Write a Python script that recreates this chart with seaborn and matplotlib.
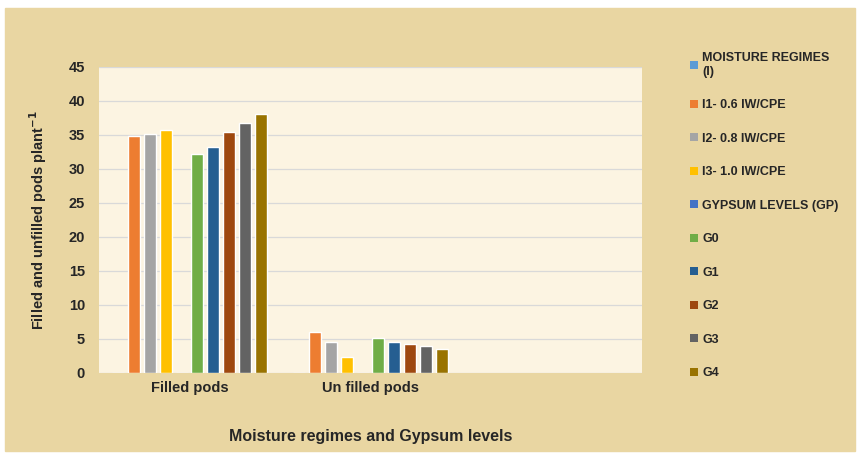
import matplotlib
matplotlib.use("Agg")
import matplotlib.pyplot as plt
import seaborn as sns
import pandas as pd
from matplotlib.patches import Patch, Rectangle

# Data
categories = ["Filled pods", "Un filled pods"]
series = [
    "MOISTURE REGIMES\n(I)",
    "I1- 0.6 IW/CPE",
    "I2- 0.8 IW/CPE",
    "I3- 1.0 IW/CPE",
    "GYPSUM LEVELS (GP)",
    "G0",
    "G1",
    "G2",
    "G3",
    "G4",
]
filled = [0, 34.8, 35.2, 35.7, 0, 32.2, 33.3, 35.4, 36.7, 38.1]
unfilled = [0, 6.1, 4.5, 2.3, 0, 5.1, 4.6, 4.3, 4.0, 3.6]
colors = [
    "#5B9BD5", "#ED7D31", "#A5A5A5", "#FFC000", "#4472C4",
    "#70AD47", "#255E91", "#9E480E", "#636363", "#997300",
]

rows = []
for s, f, u in zip(series, filled, unfilled):
    rows.append({"Category": categories[0], "Series": s, "Value": f})
    rows.append({"Category": categories[1], "Series": s, "Value": u})
df = pd.DataFrame(rows)

sns.set_style("white")
plt.rcParams["font.family"] = ["Liberation Sans", "DejaVu Sans"]
plt.rcParams["font.weight"] = "bold"

fig = plt.figure(figsize=(8.6, 4.57), dpi=100, facecolor="white")
# papyrus-like outer background
fig.patches.append(
    Rectangle((5 / 860, 6 / 457), 850 / 860, 443 / 457,
              transform=fig.transFigure, color="#E9D6A2", zorder=-1)
)
ax = fig.add_axes([99 / 860, 84 / 457, 543 / 860, 306 / 457])
ax.set_facecolor("#FCF4E2")

sns.barplot(
    data=df, x="Category", y="Value", hue="Series",
    order=categories, hue_order=series, palette=colors, saturation=1,
    width=0.88, gap=0.25, legend=False, ax=ax,
)

ax.set_xlim(-0.5, 2.5)
ax.set_ylim(0, 45)
ax.set_yticks(range(0, 50, 5))
ax.yaxis.grid(True, color="#D9D9D9", linewidth=0.9)
ax.set_axisbelow(True)
for sp in ax.spines.values():
    sp.set_visible(False)

ax.tick_params(axis="y", length=0, pad=10, labelsize=10.5)
ax.tick_params(axis="x", length=0, pad=6, labelsize=10.5)
for lab in ax.get_xticklabels() + ax.get_yticklabels():
    lab.set_fontweight("bold")

ax.set_xlabel("Moisture regimes and Gypsum levels", fontsize=11.5,
              fontweight="bold", labelpad=24)
ax.set_ylabel(r"Filled and unfilled pods plant$^{\mathbf{-1}}$", fontsize=10.5,
              fontweight="bold", labelpad=14)

handles = [Patch(facecolor=c, edgecolor="none") for c in colors]
fig.legend(
    handles, series, loc="upper left", bbox_to_anchor=(690 / 860, 1 - 52 / 457),
    frameon=False, handlelength=0.6, handleheight=0.6,
    handletextpad=0.4, labelspacing=1.72, borderpad=0, borderaxespad=0,
    prop={"weight": "bold", "size": 9},
)

fig.savefig("out.png", dpi=100, facecolor=fig.get_facecolor())
